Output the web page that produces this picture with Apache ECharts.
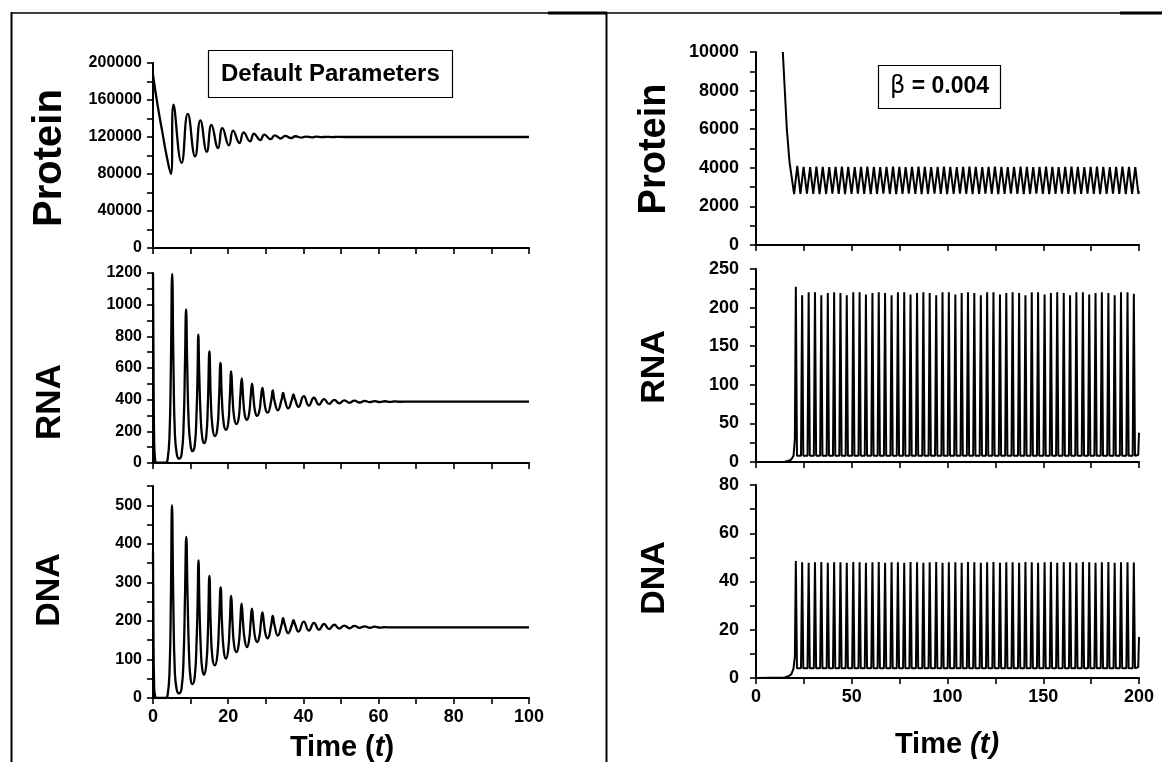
<!DOCTYPE html>
<html><head><meta charset="utf-8">
<script src="https://cdn.jsdelivr.net/npm/echarts@6.0.0/dist/echarts.min.js"></script>
<style>html,body{margin:0;padding:0;background:#fff}#c{width:1162px;height:762px}</style>
</head><body><div id="c"></div><script>
// ---------- LEFT PANEL (Default Parameters), t in [0,100] ----------
const proteinLeft = [[0,187000],[1.2,155000],[2.5,125000],[3.7,98000],[4.75,80000],[5.45,155000],[7.6,92000],[9.25,145000],[11.2,99000],[12.6,138000],[14.3,104000],[15.55,133000],[17.3,108000],[18.45,129500],[20.2,111000],[21.3,127000],[23.0,113500],[24.1,125000],[25.8,115300],[26.85,123500],[28.55,116700],[29.6,122500],[31.3,117700],[32.35,121800],[34.05,118400],[35.1,121200],[36.8,118900],[37.85,120800],[39.55,119300],[40.6,120500],[42.25,119600],[43.3,120300],[44.95,119800],[46.0,120200],[47.65,119900],[48.7,120100],[51,120000],[100,120000]];
const rnaLeft = [[0,1200],[0.12,700],[0.3,150],[0.55,20],[1,2],[3.4,2],[3.9,25],[4.4,180],[4.75,600],[5.1,1195],[5.45,600],[5.8,200],[6.3,60],[6.9,28],
[7.6,55],[8.15,250],[8.5,620],[8.8,970],[9.1,620],[9.5,250],[10.0,110],[10.45,75],
[11.1,110],[11.6,330],[11.85,560],[12.05,810],[12.3,560],[12.7,280],[13.1,160],[13.55,125],
[14.15,165],[14.6,380],[15.0,705],[15.35,420],[15.8,230],[16.45,170],
[17.1,215],[17.55,400],[17.95,633],[18.3,420],[18.8,250],[19.4,210],
[20.0,250],[20.4,400],[20.8,578],[21.15,420],[21.6,285],[22.2,245],
[22.8,285],[23.2,410],[23.6,535],[23.95,420],[24.4,305],[25.0,273],
[25.55,310],[25.95,410],[26.35,501],[26.7,420],[27.15,325],[27.7,298],
[28.3,330],[28.7,410],[29.1,475],[29.5,410],[29.95,340],[30.5,318],
[31.45,395],[31.85,458],[32.25,400],[33.2,333],
[34.2,400],[34.6,443],[35.0,405],[35.95,345],
[36.95,400],[37.35,433],[37.75,405],[38.7,355],
[40.1,422],[41.45,362],[42.8,412],[44.15,368],[45.5,404],[46.85,373],[48.2,399],[49.55,377],
[50.9,396],[52.25,380],[53.6,394],[54.95,382],[56.3,392],[57.65,384],[59.0,391],[60.35,385],
[61.7,390],[63.05,386],[64.4,389],[65.75,387],[68,388],[100,388]];
const dnaLeft = [[0,380],[0.1,200],[0.3,30],[0.6,3],[1,0],[3.4,0],[3.9,8],[4.4,70],[4.75,250],[5.05,500],[5.4,250],[5.8,70],[6.3,22],[6.9,12],
[7.6,25],[8.15,110],[8.5,260],[8.85,418],[9.2,260],[9.6,110],[10.0,50],[10.45,36],
[11.1,55],[11.6,150],[11.85,240],[12.1,357],[12.35,240],[12.75,120],[13.1,75],[13.55,60],
[14.15,85],[14.6,170],[15.0,317],[15.35,190],[15.8,105],[16.45,85],
[17.1,110],[17.55,190],[18.0,287],[18.35,195],[18.85,120],[19.4,102],
[20.0,125],[20.4,190],[20.8,265],[21.15,195],[21.6,135],[22.2,119],
[22.8,140],[23.2,195],[23.55,245],[23.95,195],[24.4,150],[25.0,132],
[25.55,150],[25.95,195],[26.3,232],[26.7,195],[27.15,158],[27.7,145],
[28.3,160],[28.7,195],[29.1,222],[29.5,195],[29.95,165],[30.5,155],
[31.45,190],[31.85,213],[32.25,192],[33.2,162],
[34.2,190],[34.6,207],[35.0,192],[35.95,168],
[36.95,190],[37.35,202],[37.75,192],[38.7,172],
[40.1,198],[41.45,175],[42.8,195],[44.15,177],[45.5,192],[46.85,179],[48.2,190],[49.55,180],
[50.9,188],[52.25,181],[53.6,187],[54.95,182],[56.3,186],[57.65,182],[59,185],[60.35,182.5],
[61.7,184],[63.05,183],[66,183],[100,183]];

// ---------- RIGHT PANEL (beta = 0.004), t in [0,200] ----------
const proteinRight = [[14,10000],[16.1,6000],[17.5,4300],[19.9,2640],[21.55,4100],
[23.2,2650],[24.85,4050],[26.6,2660],[28.25,4040],[29.9,2650],[31.55,4060],[33.2,2640],[34.85,4050],
[36.6,2650],[38.25,4040],[39.9,2660],[41.55,4050],[43.2,2650],[44.85,4060],[46.5,2640],[48.15,4050],
[49.9,2650],[51.55,4040],[53.2,2660],[54.85,4050],[56.5,2650],[58.15,4060],[59.9,2640],[61.55,4050],
[63.2,2650],[64.85,4040],[66.5,2660],[68.15,4050],[69.9,2650],[71.55,4060],[73.2,2640],[74.85,4050],
[76.5,2650],[78.15,4040],[79.8,2660],[81.45,4050],[83.2,2650],[84.85,4060],[86.5,2640],[88.15,4050],
[89.8,2650],[91.45,4040],[93.2,2660],[94.85,4050],[96.5,2650],[98.15,4060],[99.8,2640],[101.45,4050],
[103.2,2650],[104.85,4040],[106.5,2660],[108.15,4050],[109.8,2650],[111.45,4060],[113.1,2640],[114.75,4050],
[116.5,2650],[118.15,4040],[119.8,2660],[121.45,4050],[123.1,2650],[124.75,4060],[126.5,2640],[128.15,4050],
[129.8,2650],[131.45,4040],[133.1,2660],[134.75,4050],[136.5,2650],[138.15,4060],[139.8,2640],[141.45,4050],
[143.1,2650],[144.75,4040],[146.4,2660],[148.05,4050],[149.8,2650],[151.45,4060],[153.1,2640],[154.75,4050],
[156.4,2650],[158.05,4040],[159.8,2660],[161.45,4050],[163.1,2650],[164.75,4060],[166.4,2640],[168.05,4050],
[169.8,2650],[171.45,4040],[173.1,2660],[174.75,4050],[176.4,2650],[178.05,4060],[179.7,2640],[181.35,4050],
[183.1,2650],[184.75,4040],[186.4,2660],[188.05,4050],[189.7,2650],[191.35,4060],[193.1,2640],[194.75,4050],
[196.4,2650],[198.05,4040],[199.7,2650],[200,2800]];
const rnaRight = [[0,0],[15,0.3],[17,1.5],[18.5,3.5],[19.6,8],[20.3,30],[20.8,227],[21.4,8],
[23.5,8],[24.1,216],[24.7,8],[26.9,8],[27.5,220],[28.1,8],[30.2,8],[30.8,220],[31.4,8],
[33.5,8],[34.1,216],[34.7,8],[36.9,8],[37.5,219],[38.1,8],[40.2,8],[40.8,220],[41.4,8],
[43.5,8],[44.1,219],[44.7,8],[46.8,8],[47.4,216],[48.0,8],[50.2,8],[50.8,220],[51.4,8],
[53.5,8],[54.1,220],[54.7,8],[56.8,8],[57.4,217],[58.0,8],[60.2,8],[60.8,219],[61.4,8],
[63.5,8],[64.1,220],[64.7,8],[66.8,8],[67.4,219],[68.0,8],[70.2,8],[70.8,216],[71.4,8],
[73.5,8],[74.1,220],[74.7,8],[76.8,8],[77.4,220],[78.0,8],[80.1,8],[80.7,217],[81.3,8],
[83.5,8],[84.1,219],[84.7,8],[86.8,8],[87.4,220],[88.0,8],[90.1,8],[90.7,219],[91.3,8],
[93.5,8],[94.1,216],[94.7,8],[96.8,8],[97.4,220],[98.0,8],[100.1,8],[100.7,220],[101.3,8],
[103.5,8],[104.1,217],[104.7,8],[106.8,8],[107.4,219],[108.0,8],[110.1,8],[110.7,220],[111.3,8],
[113.4,8],[114.0,219],[114.6,8],[116.8,8],[117.4,216],[118.0,8],[120.1,8],[120.7,220],[121.3,8],
[123.4,8],[124.0,220],[124.6,8],[126.8,8],[127.4,217],[128.0,8],[130.1,8],[130.7,219],[131.3,8],
[133.4,8],[134.0,220],[134.6,8],[136.8,8],[137.4,219],[138.0,8],[140.1,8],[140.7,216],[141.3,8],
[143.4,8],[144.0,220],[144.6,8],[146.7,8],[147.3,220],[147.9,8],[150.1,8],[150.7,217],[151.3,8],
[153.4,8],[154.0,219],[154.6,8],[156.7,8],[157.3,220],[157.9,8],[160.1,8],[160.7,219],[161.3,8],
[163.4,8],[164.0,216],[164.6,8],[166.7,8],[167.3,220],[167.9,8],[170.1,8],[170.7,220],[171.3,8],
[173.4,8],[174.0,217],[174.6,8],[176.7,8],[177.3,219],[177.9,8],[180.0,8],[180.6,220],[181.2,8],
[183.4,8],[184.0,219],[184.6,8],[186.7,8],[187.3,216],[187.9,8],[190.0,8],[190.6,220],[191.2,8],
[193.4,8],[194.0,220],[194.6,8],[196.7,8],[197.3,218],[197.9,8],[199.6,9],[200,38]];
const dnaRight = [[0,0],[15,0.2],[17,0.7],[18.5,1.6],[19.6,4],[20.3,9],[20.8,48.5],[21.4,4],
[23.5,4],[24.1,48],[24.7,4],[26.9,4],[27.5,47.8],[28.1,4],[30.2,4],[30.8,48],[31.4,4],
[33.5,4],[34.1,48.1],[34.7,4],[36.9,4],[37.5,47.8],[38.1,4],[40.2,4],[40.8,48],[41.4,4],
[43.5,4],[44.1,48],[44.7,4],[46.8,4],[47.4,47.8],[48.0,4],[50.2,4],[50.8,48.1],[51.4,4],
[53.5,4],[54.1,48],[54.7,4],[56.8,4],[57.4,47.8],[58.0,4],[60.2,4],[60.8,48],[61.4,4],
[63.5,4],[64.1,48.1],[64.7,4],[66.8,4],[67.4,47.8],[68.0,4],[70.2,4],[70.8,48],[71.4,4],
[73.5,4],[74.1,48],[74.7,4],[76.8,4],[77.4,47.8],[78.0,4],[80.1,4],[80.7,48.1],[81.3,4],
[83.5,4],[84.1,48],[84.7,4],[86.8,4],[87.4,47.8],[88.0,4],[90.1,4],[90.7,48],[91.3,4],
[93.5,4],[94.1,48.1],[94.7,4],[96.8,4],[97.4,47.8],[98.0,4],[100.1,4],[100.7,48],[101.3,4],
[103.5,4],[104.1,48],[104.7,4],[106.8,4],[107.4,47.8],[108.0,4],[110.1,4],[110.7,48.1],[111.3,4],
[113.4,4],[114.0,48],[114.6,4],[116.8,4],[117.4,47.8],[118.0,4],[120.1,4],[120.7,48],[121.3,4],
[123.4,4],[124.0,48.1],[124.6,4],[126.8,4],[127.4,47.8],[128.0,4],[130.1,4],[130.7,48],[131.3,4],
[133.4,4],[134.0,48],[134.6,4],[136.8,4],[137.4,47.8],[138.0,4],[140.1,4],[140.7,48.1],[141.3,4],
[143.4,4],[144.0,48],[144.6,4],[146.7,4],[147.3,47.8],[147.9,4],[150.1,4],[150.7,48],[151.3,4],
[153.4,4],[154.0,48.1],[154.6,4],[156.7,4],[157.3,47.8],[157.9,4],[160.1,4],[160.7,48],[161.3,4],
[163.4,4],[164.0,48],[164.6,4],[166.7,4],[167.3,47.8],[167.9,4],[170.1,4],[170.7,48.1],[171.3,4],
[173.4,4],[174.0,48],[174.6,4],[176.7,4],[177.3,47.8],[177.9,4],[180.0,4],[180.6,48],[181.2,4],
[183.4,4],[184.0,48.1],[184.6,4],[186.7,4],[187.3,47.8],[187.9,4],[190.0,4],[190.6,48],[191.2,4],
[193.4,4],[194.0,48],[194.6,4],[196.7,4],[197.3,47.9],[197.9,4],[199.6,4.5],[200,17]];

// axis scales and tick-label steps
const leftTime = {max:100, tick:10, label:20};
const rightTime = {max:200, tick:25, label:50};
const leftY = [{max:200000, tick:20000, label:40000},{max:1200, tick:100, label:200},{max:550, tick:50, label:100}];
const rightY = [{max:10000, tick:1000, label:2000},{max:250, tick:25, label:50},{max:80, tick:10, label:20}];
const yNames = ['Protein','RNA','DNA'];

const FONT = 'Liberation Sans';
const grids = [
  {left:153, top:63, width:376, height:185},
  {left:153, top:273, width:376, height:190},
  {left:153, top:486, width:376, height:212},
  {left:756, top:52, width:383, height:193},
  {left:756, top:269, width:383, height:193},
  {left:756, top:485, width:383, height:193}
];
function lineStyleAxis(){return {show:true, onZero:false, lineStyle:{color:'#000', width:2}};}
function tickStyle(){return {show:true, inside:false, length:6, lineStyle:{color:'#000', width:1.6}};}
function xAx(gi, s, show){
  return {type:'value', gridIndex:gi, min:0, max:s.max, interval:s.tick,
    axisLine:lineStyleAxis(), axisTick:tickStyle(), splitLine:{show:false},
    axisLabel:{show:show, margin:10, color:'#000', fontFamily:FONT, fontWeight:'bold', fontSize:18,
      formatter:v => (v % s.label === 0 ? String(v) : '')}};
}
function yAx(gi, s, size, margin){
  return {type:'value', gridIndex:gi, min:0, max:s.max, interval:s.tick,
    axisLine:lineStyleAxis(), axisTick:tickStyle(), splitLine:{show:false},
    axisLabel:{show:true, margin:margin, color:'#000', fontFamily:FONT, fontWeight:'bold', fontSize:size,
      formatter:v => (v % s.label === 0 ? String(v) : '')}};
}
const xAxes = [xAx(0,leftTime,false), xAx(1,leftTime,false), xAx(2,leftTime,true),
               xAx(3,rightTime,false), xAx(4,rightTime,false), xAx(5,rightTime,true)];
const yAxes = [yAx(0,leftY[0],16,11), yAx(1,leftY[1],16,11), yAx(2,leftY[2],16,11),
               yAx(3,rightY[0],18,17), yAx(4,rightY[1],18,17), yAx(5,rightY[2],18,17)];
const seriesData = [proteinLeft, rnaLeft, dnaLeft, proteinRight, rnaRight, dnaRight];
const series = seriesData.map((d,i) => ({
  type:'line', xAxisIndex:i, yAxisIndex:i, data:d, showSymbol:false, symbol:'none',
  smooth: i < 3 ? 0.5 : false, clip:true,
  lineStyle:{color:'#000', width: i < 3 ? 2.3 : 2}
}));

function yName(text, x, y, size){
  return {type:'text', x:x, y:y, rotation:Math.PI/2,
    style:{text:text, font:'bold '+size+'px "'+FONT+'"', fill:'#000', align:'center', verticalAlign:'middle'}};
}
const graphic = [
  {type:'line', shape:{x1:11, y1:13, x2:1162, y2:13}, style:{stroke:'#000', lineWidth:1.5}},
  {type:'rect', shape:{x:548, y:11.5, width:59, height:3}, style:{fill:'#000'}},
  {type:'rect', shape:{x:1120, y:11.5, width:42, height:3}, style:{fill:'#000'}},
  {type:'line', shape:{x1:11.5, y1:12, x2:11.5, y2:762}, style:{stroke:'#000', lineWidth:2}},
  {type:'line', shape:{x1:606.5, y1:12, x2:606.5, y2:762}, style:{stroke:'#000', lineWidth:2}},
  yName(yNames[0], 50, 158, 40), yName(yNames[1], 50, 402, 35), yName(yNames[2], 50, 590, 34),
  yName(yNames[0], 655, 149, 38), yName(yNames[1], 655, 367, 34), yName(yNames[2], 655, 578, 34),
  {type:'text', x:342, y:748, style:{text:'{a|Time (}{b|t}{a|)}', align:'center', verticalAlign:'middle',
    rich:{a:{font:'bold 29px "'+FONT+'"', fill:'#000'}, b:{font:'italic bold 29px "'+FONT+'"', fill:'#000'}}}},
  {type:'text', x:947, y:745, style:{text:'{a|Time }{b|(t)}', align:'center', verticalAlign:'middle',
    rich:{a:{font:'bold 29px "'+FONT+'"', fill:'#000'}, b:{font:'italic bold 29px "'+FONT+'"', fill:'#000'}}}}
];

const option = {
  animation:false,
  backgroundColor:'#fff',
  title:[
    {text:'Default Parameters', left:208, top:50, padding:[12,13], borderColor:'#000', borderWidth:1.2,
     textStyle:{fontFamily:FONT, fontWeight:'bold', fontSize:24, color:'#000'}},
    {text:'{g|β} = 0.004', left:878, top:65, padding:[10,12], borderColor:'#000', borderWidth:1.2,
     textStyle:{fontFamily:FONT, fontWeight:'bold', fontSize:23, color:'#000',
       rich:{g:{fontFamily:'DejaVu Sans', fontWeight:'normal', fontSize:24, color:'#000'}}}}
  ],
  grid:grids, xAxis:xAxes, yAxis:yAxes, series:series, graphic:graphic
};
const chart = echarts.init(document.getElementById('c'), null, {renderer:'canvas'});
chart.setOption(option);
</script></body></html>
